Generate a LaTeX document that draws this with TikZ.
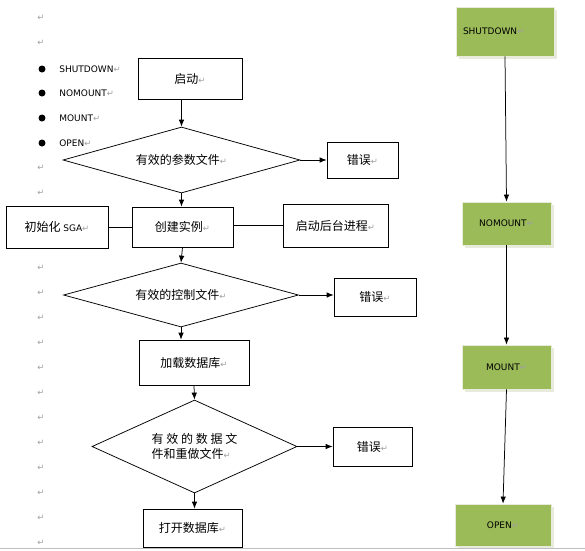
\documentclass[tikz,border=0pt]{standalone}
\usepackage{fontspec}
\setmainfont{DejaVu Sans}
\newfontfamily\cjk{Noto Sans CJK SC}
\usepackage{tikz}
\usetikzlibrary{shapes.geometric}
\usetikzlibrary{arrows,arrows.meta,shapes,shadows}
\usepackage{xcolor}
\definecolor{stategreen}{HTML}{9BBB59}
\definecolor{stateshadow}{HTML}{E8EADB}
\newcommand{\parmark}{{\rmfamily\fontsize{8.5}{9}\selectfont\color{gray!75}↵}}
\newcommand{\eng}[1]{{\rmfamily\fontsize{9}{11}\selectfont #1}}

\begin{document}
\begin{tikzpicture}[x=1pt, y=-1pt,
            every node/.style = {font=\fontsize{12}{15}\selectfont\cjk, inner sep=0pt},
            box/.style = {draw, rectangle, line width=0.75pt},
            test/.style = {draw, diamond, line width=0.75pt},
            state/.style = {fill=stategreen, draw=stateshadow, line width=0.8pt,
                font=\fontsize{9}{11}\selectfont\rmfamily,
                drop shadow={shadow xshift=3pt, shadow yshift=-3pt, fill=stateshadow, opacity=1}},
            item/.style = {anchor=west, font=\fontsize{9}{11}\selectfont\rmfamily},
            >={Latex[length=7pt,width=5.5pt]}, line width=0.75pt
            ]
            \path[use as bounding box, fill=white] (0,0) rectangle (585,550);

            % paragraph marks down the left margin
            \foreach \k in {0,1,6,7,10,11,12,13,14,15,16,17,18,19,20,21}
                \node (mark\k) at (41,{18+25*\k}) {\parmark};

            % the four states as a list
            \foreach \y/\name in {69/SHUTDOWN, 93/NOMOUNT, 118/MOUNT, 143/OPEN} {
                \fill (42,\y) circle (3.5);
                \node[item] (item-\name) at (59,\y) {\name\parmark};
            }

            % flow chart
            \node[box, minimum width=104pt, minimum height=41pt] (start) at (190,78.5) {启动\parmark};
            \node[test, minimum width=237pt, minimum height=66pt, aspect=3.6] (param) at (181.5,160) {有效的参数文件\parmark};
            \node[box, minimum width=71pt, minimum height=36pt] (err1) at (362.5,160) {错误\parmark};
            \node[box, minimum width=101pt, minimum height=40pt] (inst) at (182.5,227) {创建实例\parmark};
            \node[box, minimum width=102pt, minimum height=42pt] (sga) at (57,227) {初始化 \eng{SGA}\parmark};
            \node[box, minimum width=105pt, minimum height=43pt] (bgproc) at (335.5,225.5) {启动后台进程\parmark};
            \node[test, minimum width=235pt, minimum height=64pt, aspect=3.6] (ctrl) at (181,295) {有效的控制文件\parmark};
            \node[box, minimum width=82pt, minimum height=38pt] (err2) at (375,297) {错误\parmark};
            \node[box, minimum width=110pt, minimum height=45pt] (loaddb) at (194,362.5) {加载数据库\parmark};
            \node[test, minimum width=205pt, minimum height=93pt, aspect=2.2, align=left] (datafile) at (194.5,446.5)
                {\makebox[86pt]{有\hfill 效\hfill 的\hfill 数\hfill 据\hfill 文}\\件和重做文件\parmark};
            \node[box, minimum width=79pt, minimum height=39pt] (err3) at (372.5,446.5) {错误\parmark};
            \node[box, minimum width=99pt, minimum height=38pt] (opendb) at (192.5,528) {打开数据库\parmark};

            \draw[->] (param.north |- start.south) -- (param.north);
            \draw[->] (param.east) -- (err1.west);
            \draw[->] (param.south) -- (param.south |- inst.north);
            \draw (sga.east) -- (inst.west);
            \draw (bgproc.west -| inst.east) -- (bgproc.west);
            \draw[->] (inst.south) -- (ctrl.north);
            \draw[->] (ctrl.east) -- (ctrl.east -| err2.west);
            \draw[->] (ctrl.south) -- (ctrl.south |- loaddb.north);
            \draw[->] (loaddb.south) -- (datafile.north);
            \draw[->] (datafile.east) -- (err3.west);
            \draw[->] (datafile.south) -- (datafile.south |- opendb.north);

            % state column
            \node[state, minimum width=98pt, minimum height=49pt, text width=84pt, align=left] (shutdown) at (505,31.5) {SHUTDOWN\parmark};
            \node[state, minimum width=89pt, minimum height=43pt] (nomount) at (506.5,223.5) {NOMOUNT\parmark};
            \node[state, minimum width=89pt, minimum height=44pt] (mounted) at (506.5,367) {MOUNT\parmark};
            \node[state, minimum width=96pt, minimum height=42pt] (opened) at (503,525) {OPEN\parmark};

            \draw[->] (shutdown.south) -- (nomount.north);
            \draw[->] (nomount.south) -- (mounted.north);
            \draw[->] (mounted.south) -- (opened.north);

            % page edge
            \draw[gray!50] (0,548) -- (585,548);
        \end{tikzpicture}
\end{document}
